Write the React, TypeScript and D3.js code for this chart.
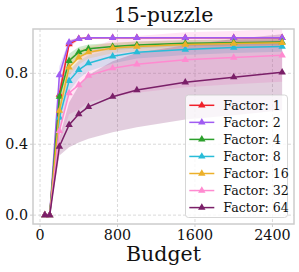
import React from "react";
import * as d3 from "d3";

const budgets = [50, 100, 200, 300, 400, 500, 750, 1000, 1500, 2000, 2500];
const factors = ["1", "2", "4", "8", "16", "32", "64"];
const colors = ["#f0202a", "#a05cf2", "#2ca02c", "#28bcd8", "#ecb02a", "#ff8ad0", "#7a1f68"];

const f1 = [0, 0, 0.68, 0.965, 0.995, 1.0, 1.0, 1.0, 1.0, 1.0, 1.0];
const f2 = [0, 0, 0.79, 0.975, 0.995, 1.0, 1.0, 1.0, 1.0, 1.0, 1.0];
const f4 = [0, 0, 0.668, 0.871, 0.919, 0.938, 0.951, 0.96, 0.97, 0.973, 0.976];
const f8 = [0, 0, 0.55, 0.758, 0.82, 0.857, 0.896, 0.919, 0.934, 0.945, 0.951];
const f16 = [0, 0, 0.589, 0.834, 0.89, 0.919, 0.943, 0.951, 0.962, 0.968, 0.972];
const f32 = [0, 0, 0.475, 0.689, 0.734, 0.787, 0.829, 0.851, 0.876, 0.889, 0.902];
const f64 = [0, 0, 0.387, 0.509, 0.57, 0.611, 0.668, 0.706, 0.749, 0.778, 0.806];

// spread (std) for the shaded bands
const s1 = [0, 0, 0.05, 0.02, 0.005, 0, 0, 0, 0, 0, 0];
const s2 = [0, 0, 0.05, 0.015, 0.005, 0, 0, 0, 0, 0, 0];
const s4 = [0, 0, 0.06, 0.04, 0.03, 0.025, 0.02, 0.02, 0.018, 0.017, 0.016];
const s8 = [0, 0, 0.08, 0.06, 0.05, 0.045, 0.04, 0.035, 0.03, 0.03, 0.03];
const s16 = [0, 0, 0.07, 0.05, 0.04, 0.035, 0.03, 0.028, 0.025, 0.024, 0.023];
const s32 = [0, 0, 0.08, 0.12, 0.14, 0.15, 0.16, 0.16, 0.155, 0.15, 0.15];
const s64 = [0, 0, 0.05, 0.126, 0.16, 0.18, 0.2, 0.21, 0.21, 0.215, 0.215];

const means = [f1, f2, f4, f8, f16, f32, f64];
const stds = [s1, s2, s4, s8, s16, s32, s64];

const xTicks = [0, 800, 1600, 2400];
const yTicks = [0, 0.4, 0.8];

const FONT = "'DejaVu Serif', serif";

const App = () => {
  const left = 33, right = 294, top = 29, bottom = 224;
  const x = d3.scaleLinear().domain([-72.5, 2622.5]).range([left, right]);
  const y = d3.scaleLinear().domain([-0.05, 1.05]).range([bottom, top]);

  const line = d3
    .line<number>()
    .x((d, i) => x(budgets[i]))
    .y(d => y(d));

  const tri = d3.symbol().type(d3.symbolTriangle).size(24);

  const legX = 185.5, legY = 95, legW = 102, rowH = 17.05;

  return (
    <svg width={299} height={272} style={{ position: "absolute", left: 0, top: 0 }}>
      <defs>
        <clipPath id="plotclip">
          <rect x={left} y={top} width={right - left} height={bottom - top} />
        </clipPath>
      </defs>
      <rect x={left} y={top} width={right - left} height={bottom - top} fill="white" />
      {/* grid */}
      {xTicks.map(t => (
        <line key={"gx" + t} x1={x(t)} x2={x(t)} y1={top} y2={bottom}
          stroke="#d0d0d0" strokeWidth={0.8} strokeDasharray="3,2" />
      ))}
      {yTicks.map(t => (
        <line key={"gy" + t} x1={left} x2={right} y1={y(t)} y2={y(t)}
          stroke="#d0d0d0" strokeWidth={0.8} strokeDasharray="3,2" />
      ))}
      <g clipPath="url(#plotclip)">
        {means.map((m, k) => {
          const area = d3
            .area<number>()
            .x((d, i) => x(budgets[i]))
            .y0((d, i) => y(d - stds[k][i]))
            .y1((d, i) => y(d + stds[k][i]));
          return <path key={"a" + k} d={area(m) || ""} fill={colors[k]} opacity={0.22} />;
        })}
        {means.map((m, k) => (
          <g key={"l" + k}>
            <path d={line(m) || ""} fill="none" stroke={colors[k]} strokeWidth={1.5} />
            {m.map((v, i) => (
              <path key={i} d={tri() || ""} fill={colors[k]}
                transform={`translate(${x(budgets[i])},${y(v)})`} />
            ))}
          </g>
        ))}
      </g>
      {/* frame */}
      <rect x={left} y={top} width={right - left} height={bottom - top}
        fill="none" stroke="#cccccc" strokeWidth={1.5} />
      {/* ticks */}
      {xTicks.map(t => (
        <g key={"xt" + t}>
          <line x1={x(t)} x2={x(t)} y1={bottom} y2={bottom + 3} stroke="#cccccc" />
          <text x={x(t)} y={bottom + 16} textAnchor="middle" fontFamily={FONT} fontSize={14.3} fill="#111">
            {t}
          </text>
        </g>
      ))}
      {yTicks.map(t => (
        <g key={"yt" + t}>
          <line x1={left - 3} x2={left} y1={y(t)} y2={y(t)} stroke="#cccccc" />
          <text x={left - 5} y={y(t) + 5} textAnchor="end" fontFamily={FONT} fontSize={14.3} fill="#111">
            {d3.format(".1f")(t)}
          </text>
        </g>
      ))}
      <text x={(left + right) / 2} y={21.5} textAnchor="middle" fontFamily={FONT} fontSize={20.5} fill="#111">
        15-puzzle
      </text>
      <text x={(left + right) / 2} y={261} textAnchor="middle" fontFamily={FONT} fontSize={20.5} fill="#111">
        Budget
      </text>
      {/* legend */}
      <rect x={legX} y={legY} width={legW} height={122.5} rx={3} fill="white" fillOpacity={0.8}
        stroke="#cccccc" strokeWidth={0.8} />
      {factors.map((f, k) => {
        const cy = legY + 10.3 + k * rowH;
        return (
          <g key={"lg" + f}>
            <line x1={legX + 3.8} x2={legX + 28.8} y1={cy} y2={cy} stroke={colors[k]} strokeWidth={1.5} />
            <path d={tri() || ""} fill={colors[k]} transform={`translate(${legX + 16.3},${cy})`} />
            <text x={legX + 37.8} y={cy + 4.5} fontFamily={FONT} fontSize={12.6} fill="#111">
              {"Factor: " + f}
            </text>
          </g>
        );
      })}
    </svg>
  );
};

export default App;
